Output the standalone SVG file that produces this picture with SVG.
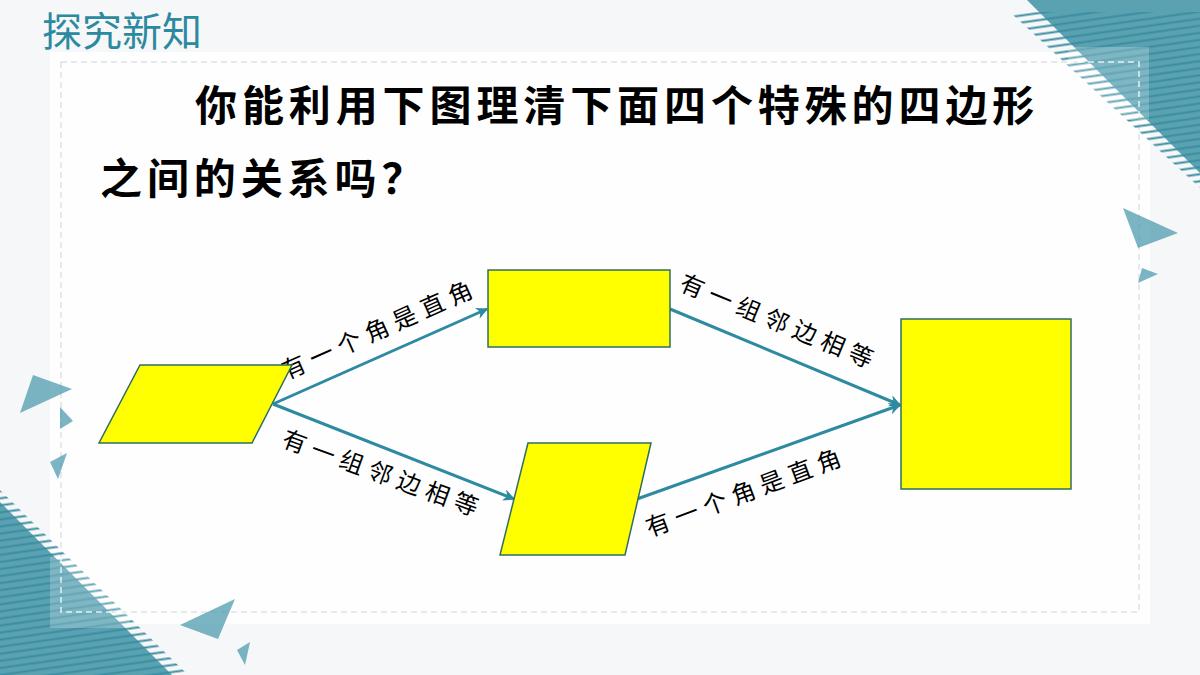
<svg xmlns="http://www.w3.org/2000/svg" width="1200" height="675" viewBox="0 0 1200 675">
<defs>
<style>
.title{font-family:"Noto Sans CJK SC","Noto Sans",sans-serif;font-size:40px;fill:#2b8aa0}
.q{font-family:"Noto Sans CJK SC","Noto Sans",sans-serif;font-size:42px;font-weight:bold;fill:#000;letter-spacing:4.9px}
.lbl{font-family:"Noto Sans CJK SC","Noto Sans",sans-serif;font-size:24px;fill:#000;letter-spacing:6.4px}
.shape{fill:#ffff00;stroke:#2e6e62;stroke-width:1.5}
.conn{stroke:#2e8aa0;stroke-width:3;fill:none;marker-end:url(#arr)}
.tri{fill:#5aa2b2}
.small{fill:#4f9bad;opacity:0.75}
</style>
<marker id="arr" viewBox="0 0 10 10" refX="9" refY="5" markerWidth="4" markerHeight="4" orient="auto" markerUnits="strokeWidth">
<path d="M0,0 L10,5 L0,10 L3,5 Z" fill="#2e8aa0"/>
</marker>
<pattern id="stripes" width="12" height="7" patternUnits="userSpaceOnUse" patternTransform="rotate(-8)">
<line x1="0" y1="3.5" x2="12" y2="3.5" stroke="#3a8ca0" stroke-width="2"/>
</pattern>
</defs>
<rect x="0" y="0" width="1200" height="675" fill="#f6f7f8"/>
<rect x="50" y="52" width="1100" height="572" fill="#fefefe"/>
<rect x="61" y="62" width="1078" height="550" fill="none" stroke="#dde2e4" stroke-width="1.5" stroke-dasharray="6,4"/>

<g id="decor-top-right">
<polygon class="tri" points="1027,0 1200,0 1200,173"/>
<polygon fill="url(#stripes)" points="1010,12 1200,12 1200,188"/>
<rect x="1068" y="47" width="81" height="73" fill="#ffffff" opacity="0.22"/>
<polyline points="1068,62 1139,62 1139,120" fill="none" stroke="#ffffff" stroke-width="1.5" stroke-dasharray="6,4" opacity="0.8"/>
</g>
<g id="decor-bottom-left">
<polygon class="tri" points="0,502 0,675 172,675"/>
<polygon fill="url(#stripes)" points="0,490 0,675 188,675"/>
<rect x="50" y="557" width="80" height="71" fill="#ffffff" opacity="0.22"/>
<polyline points="61,557 61,612 130,612" fill="none" stroke="#ffffff" stroke-width="1.5" stroke-dasharray="6,4" opacity="0.8"/>
</g>
<g id="decor-triangles">
<polygon class="small" points="33,375 72,389 20,413"/>
<polygon class="small" points="60,407 73,421 60,429" opacity="0.5"/>
<polygon class="small" points="50,462 67,453 58,479" opacity="0.5"/>
<polygon class="small" points="180,625 235,599 218,639" opacity="0.6"/>
<polygon class="small" points="237,650 250,642 245,665"/>
<polygon class="small" points="1123,208 1178,233 1138,248"/>
<polygon class="small" points="1142,268 1158,274 1138,283"/>
</g>

<text class="title" x="42" y="46">探究新知</text>
<text class="q" x="195" y="121">你能利用下图理清下面四个特殊的四边形</text>
<text class="q" x="100" y="194">之间的关系吗？</text>

<g id="connectors">
<line class="conn" x1="273" y1="404" x2="487" y2="309"/>
<line class="conn" x1="273" y1="404" x2="514" y2="499"/>
<line class="conn" x1="670" y1="309" x2="900" y2="405"/>
<line class="conn" x1="637" y1="499" x2="900" y2="405"/>
<text class="lbl" transform="translate(383,337) rotate(-24)" x="-106" y="0">有一个角是直角</text>
<text class="lbl" transform="translate(380,482) rotate(20)" x="-106" y="0">有一组邻边相等</text>
<text class="lbl" transform="translate(776,330) rotate(22.5)" x="-106" y="0">有一组邻边相等</text>
<text class="lbl" transform="translate(749,500) rotate(-20.5)" x="-106" y="0">有一个角是直角</text>
</g>

<g id="node-parallelogram">
<polygon class="shape" points="140,365 292,365 252,443 99,443"/>
</g>
<g id="node-rectangle">
<rect class="shape" x="488" y="270" width="182" height="77"/>
</g>
<g id="node-rhombus">
<polygon class="shape" points="528,443 651,443 625,555 500,555"/>
</g>
<g id="node-square">
<rect class="shape" x="901" y="319" width="170" height="170"/>
</g>
</svg>
